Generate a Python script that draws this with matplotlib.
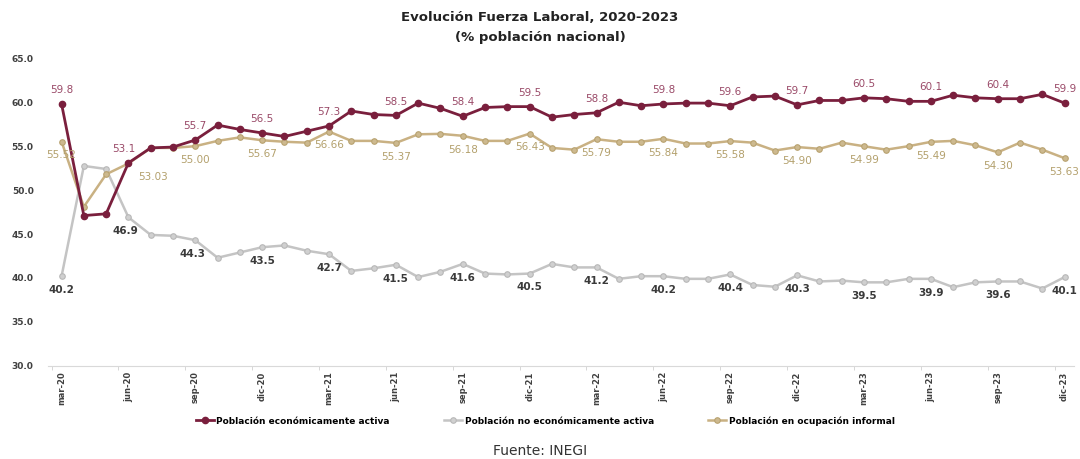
import matplotlib
matplotlib.use("Agg")
import matplotlib.pyplot as plt
import numpy as np

months = ["mar-20", "abr-20", "may-20", "jun-20", "jul-20", "ago-20", "sep-20", "oct-20", "nov-20", "dic-20",
          "ene-21", "feb-21", "mar-21", "abr-21", "may-21", "jun-21", "jul-21", "ago-21", "sep-21", "oct-21", "nov-21", "dic-21",
          "ene-22", "feb-22", "mar-22", "abr-22", "may-22", "jun-22", "jul-22", "ago-22", "sep-22", "oct-22", "nov-22", "dic-22",
          "ene-23", "feb-23", "mar-23", "abr-23", "may-23", "jun-23", "jul-23", "ago-23", "sep-23", "oct-23", "nov-23", "dic-23"]

activa = [59.8, 47.1, 47.3, 53.1, 54.8, 54.9, 55.7, 57.4, 56.9, 56.5,
          56.1, 56.7, 57.3, 59.0, 58.6, 58.5, 59.9, 59.3, 58.4, 59.4, 59.5, 59.5,
          58.3, 58.6, 58.8, 60.0, 59.6, 59.8, 59.9, 59.9, 59.6, 60.6, 60.7, 59.7,
          60.2, 60.2, 60.5, 60.4, 60.1, 60.1, 60.8, 60.5, 60.4, 60.4, 60.9, 59.9]

no_activa = [40.2, 52.75, 52.4, 46.9, 44.9, 44.8, 44.3, 42.3, 42.9, 43.5,
             43.7, 43.1, 42.7, 40.8, 41.1, 41.5, 40.1, 40.7, 41.6, 40.5, 40.4, 40.5,
             41.6, 41.2, 41.2, 39.9, 40.2, 40.2, 39.9, 39.9, 40.4, 39.2, 39.0, 40.3,
             39.6, 39.7, 39.5, 39.5, 39.9, 39.9, 38.95, 39.5, 39.6, 39.6, 38.8, 40.1]

informal = [55.52, 48.1, 51.8, 53.03, 54.8, 54.8, 55.00, 55.6, 56.0, 55.67,
            55.5, 55.4, 56.66, 55.6, 55.6, 55.37, 56.35, 56.4, 56.18, 55.6, 55.6, 56.43,
            54.8, 54.6, 55.79, 55.5, 55.5, 55.84, 55.3, 55.3, 55.58, 55.4, 54.5, 54.90,
            54.7, 55.4, 54.99, 54.6, 55.0, 55.49, 55.6, 55.1, 54.30, 55.4, 54.6, 53.63]

series_names = ["Población económicamente activa", "Población no económicamente activa",
                "Población en ocupación informal"]
y_ticks = [30.0, 35.0, 40.0, 45.0, 50.0, 55.0, 60.0, 65.0]
title = "Evolución Fuerza Laboral, 2020-2023"
subtitle = "(% población nacional)"
source = "Fuente: INEGI"

c_red, c_red_lbl = "#7a1f3d", "#9a4a68"
c_gray, c_gray_lbl = "#c4c4c4", "#3a3a3a"
c_beige, c_beige_lbl = "#c9b183", "#b3a06c"

fig = plt.figure(figsize=(10.8, 4.59), dpi=100)
ax = fig.add_axes([0.044, 0.203, 0.95, 0.670])
x = np.arange(len(months))

ax.plot(x, no_activa, color=c_gray, lw=1.8, marker="o", ms=4,
        mfc="#d0d0d0", mec="#b8b8b8", mew=0.8, label=series_names[1], zorder=2)
ax.plot(x, informal, color=c_beige, lw=1.8, marker="o", ms=4,
        mfc="#cdb98f", mec="#b8a270", mew=0.8, label=series_names[2], zorder=3)
ax.plot(x, activa, color=c_red, lw=2.0, marker="o", ms=4.5,
        mfc=c_red, mec=c_red, label=series_names[0], zorder=4)

lbl_idx = range(0, len(months), 3)
for i in lbl_idx:
    dx = -3 if i == 3 else 0
    ax.annotate(f"{activa[i]:.1f}", (x[i], activa[i]), xytext=(dx, 10), textcoords="offset points",
                ha="center", va="center", fontsize=7.5, color=c_red_lbl, zorder=6)
    ax.annotate(f"{no_activa[i]:.1f}", (x[i], no_activa[i]), xytext=(-2 if i in (3, 6) else 0, -10),
                textcoords="offset points", ha="center", va="center", fontsize=7.5,
                color=c_gray_lbl, fontweight="bold", zorder=6)
    if i == 3:
        off = (18, -10)
    else:
        off = (0, -10)
    ax.annotate(f"{informal[i]:.2f}", (x[i], informal[i]), xytext=off, textcoords="offset points",
                ha="center", va="center", fontsize=7.5, color=c_beige_lbl, zorder=5)

ax.set_ylim(30, 65)
ax.set_xlim(-0.63, 45.4)
ax.set_yticks(y_ticks)
ax.set_yticklabels([f"{v:.1f}" for v in y_ticks], fontsize=6.5, fontweight="bold", color="#404040")
ax.set_xticks(list(lbl_idx))
ax.set_xticklabels([months[i] for i in lbl_idx], rotation=90, fontsize=6, fontweight="bold", color="#404040")
ax.set_xticks([i - 0.45 for i in lbl_idx], minor=True)
ax.tick_params(axis="x", which="major", length=0, pad=4)
ax.tick_params(axis="x", which="minor", length=3, color="#d0d0d0")
ax.tick_params(axis="y", length=0, pad=10)
for s in ["top", "right", "left"]:
    ax.spines[s].set_visible(False)
ax.spines["bottom"].set_color("#d9d9d9")

fig.text(0.5, 0.962, title, ha="center", va="center", fontsize=9.5, fontweight="bold", color="#222222")
fig.text(0.5, 0.918, subtitle, ha="center", va="center", fontsize=9.5, fontweight="bold", color="#222222")

h, l = ax.get_legend_handles_labels()
order = [2, 0, 1]
fig.legend([h[k] for k in order], [l[k] for k in order], loc="center", bbox_to_anchor=(0.505, 0.083),
           ncol=3, frameon=False, prop={"size": 6.5, "weight": "bold"}, columnspacing=6,
           handlelength=2.0, handletextpad=0.3)
fig.text(0.5, 0.018, source, ha="center", va="center", fontsize=10, color="#333333")

fig.savefig("out.png", dpi=100)
